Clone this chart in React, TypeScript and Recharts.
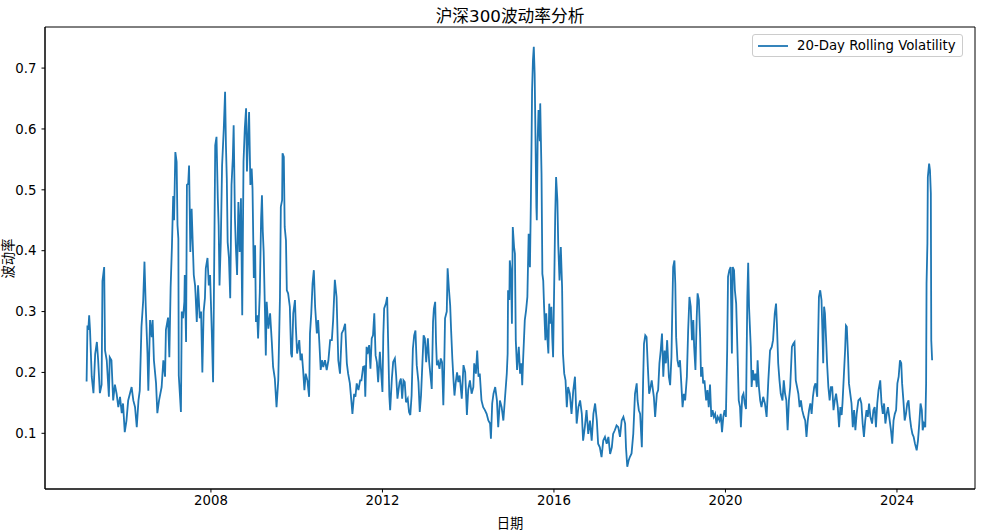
import React from "react";
import { LineChart, Line, XAxis, YAxis, ReferenceArea } from "recharts";

// dates as decimal years
const dates = [
  2005.10, 2005.12, 2005.14, 2005.16, 2005.18, 2005.22, 2005.26, 2005.30, 2005.34, 2005.37,
  2005.41, 2005.45, 2005.47, 2005.51, 2005.53, 2005.57, 2005.62, 2005.64, 2005.68, 2005.72,
  2005.76, 2005.80, 2005.84, 2005.88, 2005.92, 2005.95, 2005.99, 2006.03, 2006.07, 2006.15,
  2006.19, 2006.23, 2006.27, 2006.31, 2006.34, 2006.38, 2006.42, 2006.45, 2006.48, 2006.52,
  2006.54, 2006.58, 2006.62, 2006.64, 2006.67, 2006.72, 2006.75, 2006.79, 2006.85, 2006.89,
  2006.93, 2006.95, 2007.00, 2007.03, 2007.06, 2007.09, 2007.12, 2007.14, 2007.17, 2007.20,
  2007.22, 2007.24, 2007.25, 2007.30, 2007.32, 2007.35, 2007.38, 2007.39, 2007.42, 2007.44,
  2007.47, 2007.49, 2007.52, 2007.55, 2007.57, 2007.60, 2007.63, 2007.64, 2007.67, 2007.70,
  2007.74, 2007.77, 2007.80, 2007.83, 2007.86, 2007.88, 2007.92, 2007.95, 2007.98, 2008.02,
  2008.05, 2008.08, 2008.10, 2008.13, 2008.16, 2008.18, 2008.20, 2008.23, 2008.26, 2008.30,
  2008.33, 2008.35, 2008.37, 2008.39, 2008.42, 2008.45, 2008.48, 2008.51, 2008.53, 2008.56,
  2008.58, 2008.61, 2008.64, 2008.67, 2008.70, 2008.73, 2008.76, 2008.79, 2008.82, 2008.84,
  2008.86, 2008.89, 2008.92, 2008.95, 2008.97, 2009.00, 2009.03, 2009.05, 2009.08, 2009.10,
  2009.14, 2009.17, 2009.19, 2009.21, 2009.23, 2009.26, 2009.28, 2009.30, 2009.34, 2009.38,
  2009.42, 2009.45, 2009.49, 2009.53, 2009.57, 2009.61, 2009.63, 2009.66, 2009.67, 2009.70,
  2009.72, 2009.75, 2009.77, 2009.80, 2009.84, 2009.87, 2009.89, 2009.92, 2009.96, 2009.98,
  2010.01, 2010.06, 2010.09, 2010.12, 2010.15, 2010.18, 2010.21, 2010.25, 2010.29, 2010.31,
  2010.34, 2010.37, 2010.40, 2010.43, 2010.47, 2010.50, 2010.53, 2010.56, 2010.59, 2010.62,
  2010.66, 2010.70, 2010.74, 2010.78, 2010.82, 2010.85, 2010.89, 2010.93, 2010.97, 2011.01,
  2011.05, 2011.09, 2011.13, 2011.17, 2011.20, 2011.24, 2011.28, 2011.30, 2011.34, 2011.37,
  2011.40, 2011.44, 2011.48, 2011.51, 2011.55, 2011.58, 2011.60, 2011.63, 2011.65, 2011.69,
  2011.72, 2011.75, 2011.78, 2011.81, 2011.84, 2011.87, 2011.90, 2011.94, 2011.97, 2012.00,
  2012.02, 2012.04, 2012.08, 2012.11, 2012.14, 2012.16, 2012.18, 2012.22, 2012.25, 2012.29,
  2012.32, 2012.35, 2012.37, 2012.40, 2012.43, 2012.46, 2012.49, 2012.52, 2012.55, 2012.59,
  2012.62, 2012.65, 2012.68, 2012.71, 2012.74, 2012.77, 2012.80, 2012.84, 2012.87, 2012.90,
  2012.93, 2012.96, 2012.99, 2013.02, 2013.06, 2013.09, 2013.12, 2013.15, 2013.18, 2013.20,
  2013.23, 2013.25, 2013.27, 2013.30, 2013.33, 2013.36, 2013.39, 2013.42, 2013.44, 2013.46,
  2013.50, 2013.52, 2013.55, 2013.58, 2013.60, 2013.63, 2013.66, 2013.68, 2013.71, 2013.74,
  2013.77, 2013.80, 2013.85, 2013.89, 2013.93, 2013.97, 2014.00, 2014.04, 2014.08, 2014.12,
  2014.14, 2014.18, 2014.21, 2014.24, 2014.27, 2014.31, 2014.35, 2014.39, 2014.43, 2014.47,
  2014.51, 2014.53, 2014.56, 2014.59, 2014.63, 2014.67, 2014.70, 2014.74, 2014.78, 2014.82,
  2014.86, 2014.90, 2014.92, 2014.93, 2014.96, 2014.97, 2015.00, 2015.02, 2015.04, 2015.07,
  2015.09, 2015.11, 2015.14, 2015.18, 2015.21, 2015.24, 2015.26, 2015.28, 2015.32, 2015.35,
  2015.38, 2015.41, 2015.44, 2015.46, 2015.48, 2015.49, 2015.51, 2015.53, 2015.55, 2015.57,
  2015.59, 2015.60, 2015.62, 2015.64, 2015.67, 2015.68, 2015.71, 2015.73, 2015.75, 2015.77,
  2015.80, 2015.82, 2015.84, 2015.87, 2015.89, 2015.91, 2015.94, 2015.96, 2015.98, 2016.01,
  2016.03, 2016.05, 2016.08, 2016.10, 2016.13, 2016.16, 2016.19, 2016.21, 2016.24, 2016.27,
  2016.30, 2016.33, 2016.37, 2016.41, 2016.45, 2016.49, 2016.53, 2016.57, 2016.61, 2016.65,
  2016.68, 2016.72, 2016.76, 2016.80, 2016.84, 2016.88, 2016.92, 2016.96, 2017.00, 2017.03,
  2017.07, 2017.11, 2017.15, 2017.19, 2017.23, 2017.27, 2017.31, 2017.35, 2017.38, 2017.42,
  2017.46, 2017.50, 2017.54, 2017.58, 2017.62, 2017.66, 2017.68, 2017.71, 2017.74, 2017.77,
  2017.81, 2017.85, 2017.89, 2017.93, 2017.95, 2017.98, 2018.01, 2018.05, 2018.08, 2018.10,
  2018.13, 2018.16, 2018.19, 2018.22, 2018.24, 2018.28, 2018.30, 2018.33, 2018.36, 2018.40,
  2018.43, 2018.46, 2018.49, 2018.52, 2018.55, 2018.58, 2018.61, 2018.64, 2018.68, 2018.71,
  2018.74, 2018.76, 2018.78, 2018.81, 2018.83, 2018.85, 2018.88, 2018.91, 2018.94, 2018.97,
  2019.00, 2019.03, 2019.06, 2019.10, 2019.13, 2019.16, 2019.19, 2019.22, 2019.25, 2019.27,
  2019.30, 2019.33, 2019.35, 2019.38, 2019.41, 2019.43, 2019.46, 2019.48, 2019.51, 2019.55,
  2019.58, 2019.61, 2019.64, 2019.67, 2019.70, 2019.73, 2019.76, 2019.79, 2019.82, 2019.86,
  2019.89, 2019.92, 2019.95, 2019.98, 2020.01, 2020.04, 2020.06, 2020.09, 2020.12, 2020.15,
  2020.17, 2020.20, 2020.22, 2020.25, 2020.28, 2020.31, 2020.34, 2020.36, 2020.39, 2020.42,
  2020.45, 2020.48, 2020.51, 2020.53, 2020.55, 2020.59, 2020.61, 2020.64, 2020.67, 2020.70,
  2020.73, 2020.75, 2020.78, 2020.81, 2020.84, 2020.88, 2020.92, 2020.96, 2021.00, 2021.04,
  2021.08, 2021.11, 2021.15, 2021.18, 2021.20, 2021.23, 2021.26, 2021.29, 2021.33, 2021.36,
  2021.39, 2021.42, 2021.45, 2021.48, 2021.51, 2021.55, 2021.58, 2021.61, 2021.64, 2021.67,
  2021.70, 2021.73, 2021.76, 2021.79, 2021.83, 2021.86, 2021.89, 2021.92, 2021.95, 2021.98,
  2022.01, 2022.04, 2022.07, 2022.10, 2022.14, 2022.15, 2022.18, 2022.21, 2022.24, 2022.26,
  2022.28, 2022.30, 2022.32, 2022.35, 2022.37, 2022.40, 2022.43, 2022.46, 2022.49, 2022.52,
  2022.55, 2022.58, 2022.62, 2022.65, 2022.68, 2022.71, 2022.73, 2022.76, 2022.79, 2022.81,
  2022.83, 2022.86, 2022.88, 2022.90, 2022.94, 2022.97, 2023.00, 2023.03, 2023.06, 2023.10,
  2023.14, 2023.17, 2023.20, 2023.23, 2023.26, 2023.29, 2023.32, 2023.35, 2023.38, 2023.42,
  2023.45, 2023.48, 2023.51, 2023.54, 2023.57, 2023.61, 2023.64, 2023.67, 2023.70, 2023.73,
  2023.76, 2023.79, 2023.82, 2023.86, 2023.89, 2023.92, 2023.95, 2023.98, 2024.01, 2024.04,
  2024.07, 2024.10, 2024.12, 2024.15, 2024.18, 2024.21, 2024.24, 2024.27, 2024.30, 2024.33,
  2024.36, 2024.39, 2024.42, 2024.46, 2024.49, 2024.52, 2024.55, 2024.58, 2024.60, 2024.63,
  2024.66, 2024.68, 2024.69, 2024.71, 2024.72, 2024.75, 2024.77, 2024.79, 2024.80, 2024.82,
];

// 20-day rolling volatility, same order as dates
const vol20 = [
  0.185, 0.277, 0.270, 0.294, 0.270, 0.193, 0.166, 0.230, 0.250, 0.220,
  0.166, 0.180, 0.350, 0.373, 0.236, 0.220, 0.160, 0.225, 0.220, 0.154,
  0.180, 0.165, 0.143, 0.160, 0.133, 0.149, 0.102, 0.121, 0.154, 0.176,
  0.154, 0.143, 0.110, 0.154, 0.170, 0.275, 0.318, 0.382, 0.308, 0.231,
  0.170, 0.286, 0.258, 0.286, 0.220, 0.182, 0.133, 0.154, 0.176, 0.220,
  0.193, 0.270, 0.290, 0.225, 0.340, 0.406, 0.490, 0.450, 0.562, 0.546,
  0.442, 0.420, 0.195, 0.135, 0.300, 0.289, 0.316, 0.360, 0.250, 0.508,
  0.510, 0.540, 0.398, 0.469, 0.425, 0.360, 0.343, 0.330, 0.283, 0.343,
  0.289, 0.300, 0.200, 0.300, 0.322, 0.371, 0.388, 0.343, 0.360, 0.267,
  0.184, 0.409, 0.573, 0.587, 0.486, 0.442, 0.343, 0.414, 0.540, 0.601,
  0.661, 0.573, 0.519, 0.414, 0.388, 0.322, 0.508, 0.552, 0.606, 0.453,
  0.409, 0.360, 0.480, 0.398, 0.486, 0.294, 0.546, 0.601, 0.634, 0.530,
  0.573, 0.628, 0.508, 0.535, 0.502, 0.355, 0.409, 0.283, 0.294, 0.256,
  0.332, 0.453, 0.491, 0.431, 0.398, 0.300, 0.228, 0.316, 0.272, 0.297,
  0.250, 0.209, 0.190, 0.143, 0.187, 0.324, 0.472, 0.483, 0.560, 0.554,
  0.439, 0.417, 0.335, 0.330, 0.308, 0.231, 0.225, 0.297, 0.319, 0.275,
  0.231, 0.253, 0.220, 0.231, 0.204, 0.171, 0.198, 0.187, 0.160, 0.264,
  0.297, 0.346, 0.368, 0.308, 0.264, 0.286, 0.247, 0.204, 0.220, 0.209,
  0.220, 0.204, 0.220, 0.253, 0.253, 0.286, 0.352, 0.324, 0.220, 0.198,
  0.264, 0.270, 0.280, 0.215, 0.198, 0.182, 0.149, 0.132, 0.165, 0.160,
  0.182, 0.171, 0.187, 0.187, 0.209, 0.210, 0.160, 0.242, 0.230, 0.245,
  0.206, 0.256, 0.261, 0.297, 0.228, 0.217, 0.184, 0.234, 0.200, 0.168,
  0.261, 0.305, 0.313, 0.324, 0.228, 0.162, 0.138, 0.190, 0.217, 0.223,
  0.195, 0.157, 0.168, 0.184, 0.190, 0.157, 0.187, 0.184, 0.151, 0.157,
  0.135, 0.130, 0.162, 0.239, 0.261, 0.269, 0.212, 0.184, 0.135, 0.162,
  0.212, 0.261, 0.256, 0.217, 0.256, 0.217, 0.195, 0.173, 0.283, 0.305,
  0.316, 0.250, 0.212, 0.217, 0.206, 0.223, 0.217, 0.146, 0.206, 0.289,
  0.300, 0.371, 0.338, 0.310, 0.272, 0.223, 0.184, 0.162, 0.184, 0.200,
  0.184, 0.195, 0.157, 0.212, 0.200, 0.130, 0.171, 0.187, 0.165, 0.176,
  0.215, 0.198, 0.236, 0.193, 0.198, 0.154, 0.143, 0.138, 0.132, 0.121,
  0.116, 0.091, 0.149, 0.165, 0.176, 0.154, 0.110, 0.154, 0.143, 0.121,
  0.160, 0.198, 0.231, 0.335, 0.319, 0.384, 0.362, 0.280, 0.439, 0.406,
  0.395, 0.253, 0.204, 0.242, 0.198, 0.215, 0.179, 0.220, 0.286, 0.302,
  0.324, 0.428, 0.373, 0.472, 0.593, 0.664, 0.713, 0.735, 0.691, 0.582,
  0.472, 0.450, 0.582, 0.631, 0.580, 0.642, 0.527, 0.362, 0.351, 0.308,
  0.253, 0.297, 0.264, 0.231, 0.313, 0.280, 0.308, 0.258, 0.225, 0.362,
  0.461, 0.521, 0.483, 0.410, 0.351, 0.406, 0.340, 0.231, 0.198, 0.187,
  0.143, 0.176, 0.165, 0.132, 0.170, 0.193, 0.116, 0.143, 0.154, 0.132,
  0.088, 0.110, 0.138, 0.099, 0.121, 0.088, 0.132, 0.149, 0.121, 0.083,
  0.077, 0.061, 0.088, 0.094, 0.083, 0.094, 0.066, 0.077, 0.099, 0.105,
  0.113, 0.110, 0.094, 0.121, 0.127, 0.116, 0.077, 0.045, 0.055, 0.061,
  0.067, 0.099, 0.165, 0.182, 0.154, 0.138, 0.132, 0.077, 0.187, 0.247,
  0.261, 0.258, 0.209, 0.165, 0.171, 0.187, 0.176, 0.160, 0.127, 0.165,
  0.171, 0.215, 0.236, 0.264, 0.193, 0.236, 0.215, 0.253, 0.193, 0.179,
  0.225, 0.302, 0.373, 0.384, 0.346, 0.258, 0.220, 0.209, 0.220, 0.182,
  0.143, 0.165, 0.154, 0.193, 0.269, 0.324, 0.308, 0.253, 0.286, 0.242,
  0.204, 0.291, 0.330, 0.319, 0.258, 0.193, 0.209, 0.182, 0.187, 0.154,
  0.171, 0.143, 0.180, 0.127, 0.138, 0.127, 0.132, 0.116, 0.127, 0.121,
  0.132, 0.102, 0.127, 0.138, 0.127, 0.236, 0.357, 0.368, 0.373, 0.231,
  0.373, 0.368, 0.335, 0.313, 0.236, 0.154, 0.143, 0.110, 0.160, 0.165,
  0.149, 0.140, 0.324, 0.380, 0.308, 0.242, 0.176, 0.204, 0.187, 0.198,
  0.176, 0.220, 0.176, 0.154, 0.143, 0.160, 0.149, 0.127, 0.187, 0.236,
  0.242, 0.253, 0.297, 0.313, 0.280, 0.215, 0.187, 0.165, 0.154, 0.187,
  0.165, 0.154, 0.105, 0.154, 0.176, 0.242, 0.247, 0.250, 0.187, 0.176,
  0.165, 0.143, 0.154, 0.138, 0.127, 0.121, 0.094, 0.121, 0.138, 0.149,
  0.132, 0.160, 0.176, 0.182, 0.160, 0.215, 0.324, 0.335, 0.319, 0.270,
  0.215, 0.308, 0.297, 0.250, 0.215, 0.176, 0.154, 0.176, 0.176, 0.138,
  0.154, 0.165, 0.143, 0.110, 0.143, 0.130, 0.150, 0.193, 0.236, 0.277,
  0.275, 0.225, 0.182, 0.171, 0.149, 0.110, 0.138, 0.105, 0.132, 0.154,
  0.157, 0.149, 0.116, 0.094, 0.121, 0.138, 0.127, 0.149, 0.127, 0.116,
  0.138, 0.143, 0.110, 0.149, 0.171, 0.187, 0.149, 0.132, 0.149, 0.116,
  0.132, 0.143, 0.127, 0.105, 0.083, 0.121, 0.132, 0.138, 0.182, 0.193,
  0.220, 0.215, 0.182, 0.154, 0.121, 0.132, 0.149, 0.154, 0.127, 0.110,
  0.099, 0.094, 0.083, 0.072, 0.088, 0.116, 0.149, 0.138, 0.105, 0.116,
  0.110, 0.182, 0.346, 0.412, 0.521, 0.543, 0.532, 0.494, 0.253, 0.220,
];

const yearTicks = [2008, 2012, 2016, 2020, 2024];
const volTicks = [0.1, 0.2, 0.3, 0.4, 0.5, 0.6, 0.7];

const rows = dates.map((t, i) => ({ t, vol: vol20[i] }));

const FONT = "'DejaVu Sans', 'Noto Sans CJK SC', sans-serif";
const BLUE = "#1f77b4";
const X_DOMAIN: [number, number] = [2004.13, 2025.82];
const Y_DOMAIN: [number, number] = [0.0085, 0.7675];

function LegendBox() {
  return (
    <div
      style={{
        position: "absolute",
        top: 34,
        left: 752,
        border: "1px solid #cccccc",
        borderRadius: 3,
        background: "rgba(255,255,255,0.8)",
        padding: "3px 6px 3px 5px",
        display: "flex",
        alignItems: "center",
        fontSize: 13.3,
        color: "#000",
        fontFamily: FONT,
        whiteSpace: "nowrap",
      }}
    >
      <svg width={30} height={10} style={{ marginRight: 9 }}>
        <line x1={0} y1={5} x2={30} y2={5} stroke={BLUE} strokeWidth={1.8} />
      </svg>
      20-Day Rolling Volatility
    </div>
  );
}

export default function App() {
  return (
    <div style={{ position: "relative", width: 988, height: 530, fontFamily: FONT, background: "#fff" }}>
      <style>{`body{margin:0}`}</style>
      <div style={{ position: "absolute", top: 3, left: 45, width: 930, textAlign: "center", fontSize: 16.7, color: "#000" }}>
        沪深300波动率分析
      </div>
      <div style={{ position: "absolute", top: 513, left: 45, width: 930, textAlign: "center", fontSize: 13.3, color: "#000" }}>
        日期
      </div>
      <div
        style={{
          position: "absolute",
          left: -13,
          top: 249,
          width: 40,
          textAlign: "center",
          fontSize: 13.3,
          color: "#000",
          transform: "rotate(-90deg)",
        }}
      >
        波动率
      </div>
      <LineChart width={988} height={530} data={rows} margin={{ top: 27, right: 13, bottom: 0, left: 0 }}>
        <XAxis
          type="number"
          dataKey="t"
          domain={X_DOMAIN}
          ticks={yearTicks}
          allowDataOverflow
          height={41}
          tickSize={3.5}
          tickMargin={3}
          stroke="#000"
          tick={{ fill: "#000", fontSize: 13.3, fontFamily: FONT }}
        />
        <YAxis
          type="number"
          domain={Y_DOMAIN}
          ticks={volTicks}
          allowDataOverflow
          width={45}
          tickSize={3.5}
          tickMargin={5}
          stroke="#000"
          tickFormatter={(v: number) => v.toFixed(1)}
          tick={{ fill: "#000", fontSize: 13.3, fontFamily: FONT }}
        />
        <ReferenceArea
          x1={X_DOMAIN[0]}
          x2={X_DOMAIN[1]}
          y1={Y_DOMAIN[0]}
          y2={Y_DOMAIN[1]}
          fill="none"
          stroke="#000"
          strokeWidth={1}
          ifOverflow="visible"
        />
        <Line
          type="linear"
          dataKey="vol"
          name="20-Day Rolling Volatility"
          stroke={BLUE}
          strokeWidth={1.8}
          dot={false}
          isAnimationActive={false}
        />
      </LineChart>
      <LegendBox />
    </div>
  );
}
